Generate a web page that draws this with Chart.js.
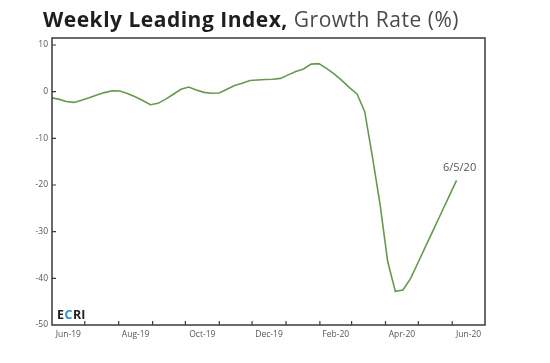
<!DOCTYPE html>
<html>
<head>
<meta charset="utf-8">
<script src="https://cdn.jsdelivr.net/npm/chart.js@4/dist/chart.umd.min.js"></script>
<style>
  html, body { margin: 0; padding: 0; background: #fff; }
  #wrap { position: relative; width: 550px; height: 363px; }
  #title { position: absolute; left: 43px; top: 5px; font-family: "Open Sans", sans-serif; font-size: 21px; color: #222; white-space: nowrap; letter-spacing: 0.5px; }
  #title b { font-weight: 700; color: #1e1e1e; }
  #title span { font-weight: 400; color: #4a4a4a; }
  canvas { position: absolute; left: 0; top: 0; }
</style>
</head>
<body>
<div id="wrap">
  <canvas id="c" width="550" height="363"></canvas>
  <div id="title"><b>Weekly Leading Index,</b> <span>Growth Rate (%)</span></div>
</div>
<script>
// ---- data ----
const weekDates = [
  '2019-05-31','2019-06-07','2019-06-14','2019-06-21','2019-06-28','2019-07-05','2019-07-12','2019-07-19','2019-07-26',
  '2019-08-02','2019-08-09','2019-08-16','2019-08-23','2019-08-30','2019-09-06','2019-09-13','2019-09-20','2019-09-27',
  '2019-10-04','2019-10-11','2019-10-18','2019-10-25','2019-11-01','2019-11-08','2019-11-15','2019-11-22','2019-11-29',
  '2019-12-06','2019-12-13','2019-12-20','2019-12-27','2020-01-03','2020-01-10','2020-01-17','2020-01-24','2020-01-31',
  '2020-02-07','2020-02-14','2020-02-21','2020-02-28','2020-03-06','2020-03-13','2020-03-20','2020-03-27','2020-04-03',
  '2020-04-10','2020-04-17','2020-04-24','2020-05-01','2020-05-08','2020-05-15','2020-05-22','2020-05-29','2020-06-05'
];
const growthRate = [
  -1.3, -1.6, -2.1, -2.3, -1.85, -1.3, -0.7, -0.2, 0.2,
  0.15, -0.4, -1.1, -1.9, -2.8, -2.5, -1.6, -0.55, 0.5,
  1.0, 0.35, -0.15, -0.35, -0.3, 0.5, 1.3, 1.8, 2.4,
  2.5, 2.6, 2.65, 2.85, 3.6, 4.3, 4.85, 5.9, 6.0,
  5.0, 3.8, 2.4, 0.85, -0.5, -4.3, -13.9, -24.1, -36.4,
  -42.8, -42.5, -40.0, -36.5, -33.0, -29.5, -26.0, -22.5, -19.0
];
const monthBoundaries = ['2019-06-01','2019-07-01','2019-08-01','2019-09-01','2019-10-01','2019-11-01','2019-12-01',
  '2020-01-01','2020-02-01','2020-03-01','2020-04-01','2020-05-01','2020-06-01','2020-07-01'];
const xTickLabels = ['Jun-19','Aug-19','Oct-19','Dec-19','Feb-20','Apr-20','Jun-20'];
const xTickMonths = ['2019-06','2019-08','2019-10','2019-12','2020-02','2020-04','2020-06'];
const yTicks = [10, 0, -10, -20, -30, -40, -50];
const lastLabel = '6/5/20';

// ---- helpers: convert dates to day offsets from axis start ----
const t0 = Date.UTC(2019, 5, 1);
const dayOf = s => { const p = s.split('-').map(Number); return (Date.UTC(p[0], p[1]-1, p[2] || 1) - t0) / 86400000; };
const points = weekDates.map((d, i) => ({ x: dayOf(d), y: growthRate[i] }));
const boundaryDays = monthBoundaries.map(dayOf);
const labelDays = xTickMonths.map(m => {
  const a = dayOf(m + '-01');
  const p = m.split('-').map(Number);
  const b = (Date.UTC(p[0], p[1], 1) - t0) / 86400000;
  return (a + b) / 2;
});

const frameColor = '#3a3a3a';
const tickFont = { family: '"Open Sans", sans-serif', size: 8.5 };

const framePlugin = {
  id: 'frame',
  afterDatasetsDraw(chart) {
    const { ctx, chartArea: a, scales } = chart;
    ctx.save();
    ctx.strokeStyle = frameColor;
    ctx.lineWidth = 1.5;
    ctx.strokeRect(a.left, a.top, a.right - a.left, a.bottom - a.top);
    ctx.lineWidth = 1.2;
    ctx.beginPath();
    boundaryDays.forEach(d => {
      const x = scales.x.getPixelForValue(d);
      if (x > a.left + 1 && x < a.right - 1) { ctx.moveTo(x, a.bottom); ctx.lineTo(x, a.bottom - 4); }
    });
    yTicks.forEach(v => {
      const y = scales.y.getPixelForValue(v);
      if (y > a.top + 1 && y < a.bottom - 1) { ctx.moveTo(a.left, y); ctx.lineTo(a.left + 4, y); }
    });
    ctx.stroke();
    // ECRI logo text
    ctx.font = 'bold 12.5px "Open Sans", sans-serif';
    ctx.textBaseline = 'alphabetic';
    ctx.textAlign = 'left';
    let x = a.left + 5; const y = a.bottom - 6;
    [['E', '#222'], ['C', '#2a8fd6'], ['RI', '#222']].forEach(([s, c]) => {
      ctx.fillStyle = c; ctx.fillText(s, x, y); x += ctx.measureText(s).width + 0.5;
    });
    // end label
    const meta = chart.getDatasetMeta(0);
    const last = meta.data[meta.data.length - 1];
    ctx.font = '11px "Open Sans", sans-serif';
    ctx.fillStyle = '#555';
    ctx.textAlign = 'center';
    ctx.fillText(lastLabel, last.x + 3, last.y - 9);
    ctx.restore();
  }
};

new Chart(document.getElementById('c'), {
  type: 'line',
  data: {
    datasets: [{
      data: points,
      borderColor: '#649a4f',
      borderWidth: 1.6,
      pointRadius: 0,
      tension: 0,
      fill: false
    }]
  },
  options: {
    responsive: false,
    animation: false,
    layout: { padding: { left: 0, right: 65, top: 38, bottom: 0 } },
    plugins: { legend: { display: false }, tooltip: { enabled: false } },
    scales: {
      x: {
        type: 'linear',
        min: 0, max: 396,
        afterBuildTicks(scale) { scale.ticks = labelDays.map(v => ({ value: v })); },
        afterFit(scale) { scale.height = 38; },
        ticks: {
          autoSkip: false, maxRotation: 0, padding: 4,
          color: '#555', font: tickFont,
          callback(v) { const i = labelDays.indexOf(v); return i >= 0 ? xTickLabels[i] : ''; }
        },
        grid: { display: false, drawTicks: false },
        border: { display: false }
      },
      y: {
        min: -50, max: 11.5,
        afterBuildTicks(scale) { scale.ticks = yTicks.map(v => ({ value: v })); },
        afterFit(scale) { scale.width = 52; },
        ticks: { color: '#555', font: tickFont, padding: 4 },
        grid: { display: false, drawTicks: false },
        border: { display: false }
      }
    }
  },
  plugins: [framePlugin]
});
</script>
</body>
</html>
